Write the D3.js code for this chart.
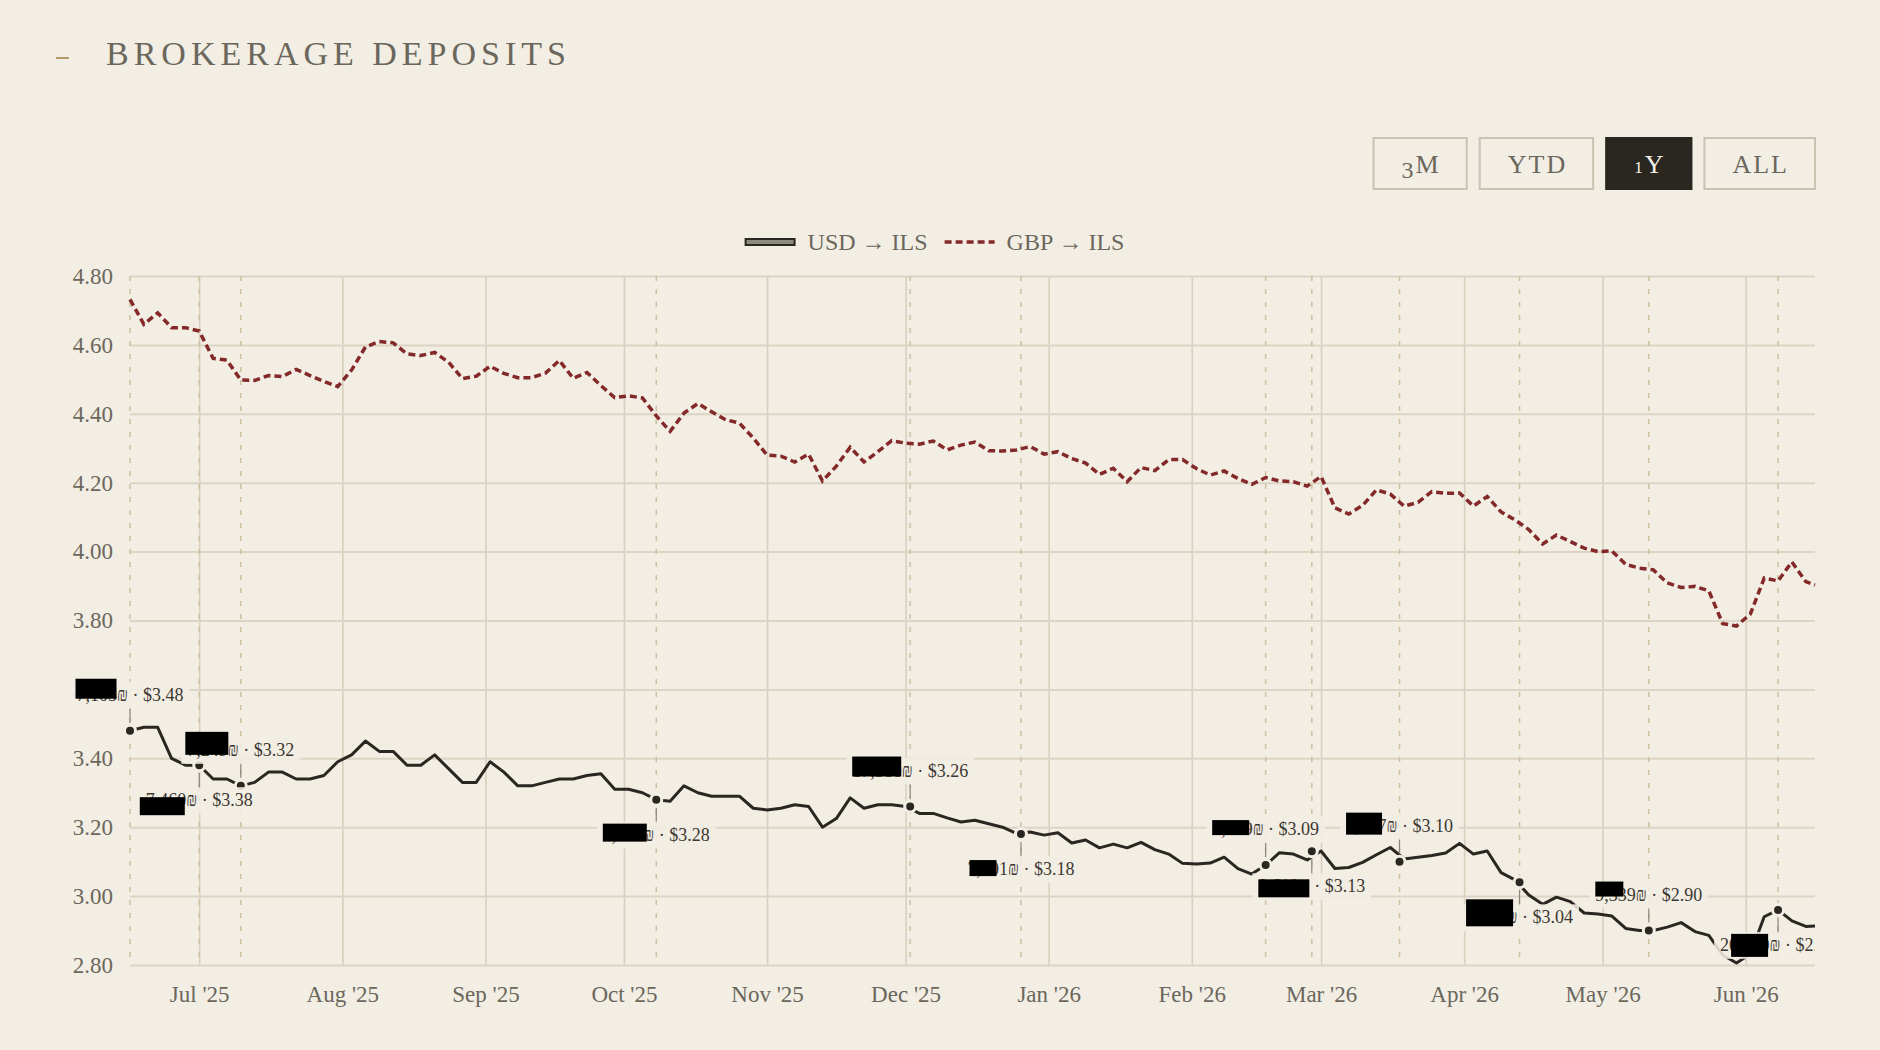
<!DOCTYPE html>
<meta charset="utf-8">
<script src="https://d3js.org/d3.v7.min.js"></script>
<style>
body { margin: 0; background: #f2eee4; }
svg { display: block; font-family: "Liberation Serif", "DejaVu Serif", serif; }
.axis path { display: none; }
.y.axis line { stroke: #dcd4c4; stroke-width: 2px; }
.x.axis line { stroke: #d8cfbe; stroke-width: 1.6px; }
.axis text { fill: #6b675c; font-size: 23px; }
.guide { stroke: #cdbf9f; stroke-width: 1.5px; stroke-dasharray: 5 8; }
.usd { fill: none; stroke: #2a2622; stroke-width: 3px; stroke-linejoin: round; }
.gbp { fill: none; stroke: #83292a; stroke-width: 3.5px; stroke-dasharray: 7 4; }
.dot { fill: #2a2622; stroke: #f2eee4; stroke-width: 3px; }
.leader { stroke: #8a8478; stroke-width: 1.2px; }
.note text { fill: #3b3731; font-size: 18px; }
.note .bg { fill: #f2eee4; opacity: 0.88; }
.legend text { fill: #6b675c; font-size: 24px; }
.btn rect { fill: none; stroke: #cac2b2; stroke-width: 2px; }
.btn text { fill: #6b675c; font-size: 26px; letter-spacing: 2px; }
.btn.on rect { fill: #2a2620; stroke: #2a2620; }
.btn.on text { fill: #f2eee4; }
</style>
<body></body>
<script>

// sample dates every 3 days across the 1Y window
var startDate = new Date(2025, 5, 16);
var endDate = new Date(2026, 5, 16);
var dates = d3.timeDay.range(startDate, endDate, 3).concat([endDate]);

// USD -> ILS
var usd = [3.48, 3.49, 3.49, 3.40, 3.38, 3.38, 3.34, 3.34, 3.32, 3.33,
  3.36, 3.36, 3.34, 3.34, 3.35, 3.39, 3.41, 3.45, 3.42, 3.42,
  3.38, 3.38, 3.41, 3.37, 3.33, 3.33, 3.39, 3.36, 3.32, 3.32,
  3.33, 3.34, 3.34, 3.35, 3.355, 3.31, 3.31, 3.30, 3.28, 3.275,
  3.32, 3.30, 3.29, 3.29, 3.29, 3.255, 3.25, 3.255, 3.265, 3.26,
  3.20, 3.225, 3.285, 3.255, 3.265, 3.265, 3.26, 3.24, 3.24, 3.227,
  3.215, 3.22, 3.21, 3.20, 3.182, 3.186, 3.177, 3.184, 3.154, 3.163,
  3.14, 3.151, 3.14, 3.156, 3.135, 3.122, 3.095, 3.093, 3.096, 3.113,
  3.08, 3.064, 3.09, 3.126, 3.122, 3.105, 3.131, 3.08, 3.083, 3.098,
  3.12, 3.141, 3.108, 3.113, 3.118, 3.125, 3.153, 3.122, 3.131, 3.068,
  3.047, 3.003, 2.976, 2.997, 2.984, 2.951, 2.948, 2.942, 2.906, 2.90,
  2.90, 2.91, 2.923, 2.897, 2.886, 2.829, 2.806, 2.832, 2.94, 2.96,
  2.928, 2.912, 2.913];

// GBP -> ILS
var gbp = [4.732, 4.66, 4.693, 4.65, 4.65, 4.64, 4.561, 4.556, 4.498, 4.497,
  4.511, 4.508, 4.529, 4.511, 4.494, 4.479, 4.527, 4.594, 4.61, 4.606,
  4.574, 4.569, 4.578, 4.55, 4.502, 4.509, 4.538, 4.517, 4.505, 4.505,
  4.518, 4.555, 4.503, 4.52, 4.482, 4.447, 4.452, 4.446, 4.394, 4.349,
  4.402, 4.43, 4.406, 4.383, 4.373, 4.33, 4.28, 4.277, 4.26, 4.283,
  4.205, 4.248, 4.303, 4.26, 4.29, 4.322, 4.315, 4.312, 4.321, 4.295,
  4.309, 4.318, 4.293, 4.292, 4.295, 4.305, 4.283, 4.29, 4.27, 4.257,
  4.224, 4.242, 4.203, 4.244, 4.235, 4.267, 4.267, 4.241, 4.222, 4.234,
  4.212, 4.195, 4.215, 4.205, 4.203, 4.19, 4.218, 4.127, 4.109, 4.134,
  4.179, 4.167, 4.132, 4.143, 4.174, 4.169, 4.17, 4.132, 4.16, 4.115,
  4.092, 4.064, 4.022, 4.048, 4.029, 4.01, 4.00, 4.002, 3.963, 3.952,
  3.947, 3.909, 3.896, 3.899, 3.886, 3.791, 3.784, 3.819, 3.923, 3.915,
  3.97, 3.913, 3.903];

var yTicks = [2.8, 3.0, 3.2, 3.4, 3.6, 3.8, 4.0, 4.2, 4.4, 4.6, 4.8];

// deposits
var noteDates = ["2025-06-16", "2025-07-01", "2025-07-10", "2025-10-08", "2025-12-02", "2025-12-26",
  "2026-02-17", "2026-02-27", "2026-03-18", "2026-04-13", "2026-05-11", "2026-06-08"];
var noteRates = [3.48, 3.38, 3.32, 3.28, 3.26, 3.18, 3.09, 3.13, 3.10, 3.04, 2.90, 2.96];
var noteAmounts = ["7,103", "7,460", "7,249", "7,319", "17,380", "7,501",
  "8,249", "8,610", "8,627", "9,884", "9,339", "20,550"];
// redaction boxes over the amounts: [dx from text start, width, top from baseline, height]
var redactions = [[-1, 41, -22, 20], [-6, 45, -9, 18], [-2, 43, -24, 23], [0, 44, -17, 18],
  [0, 49, -20, 20], [2, 27, -15, 16], [0, 37, -15, 15], [0, 51, -13, 18],
  [0, 36, -19, 22], [0, 47, -24, 27], [0, 28, -19, 15], [11, 37, -17, 23]];

var ranges = ["3M", "YTD", "1Y", "ALL"];
var activeRange = "1Y";

var parseDay = d3.timeParse("%Y-%m-%d");
var data = dates.map(function(d, i) { return {date: d, usd: usd[i], gbp: gbp[i]}; });
var notes = noteDates.map(function(d, i) {
  return {date: parseDay(d), rate: noteRates[i], amount: noteAmounts[i], red: redactions[i], above: i % 2 === 0};
});

var W = 1880, H = 1050;
var margin = {top: 276, right: 65, bottom: 85, left: 130};
var width = W - margin.left - margin.right,
    height = H - margin.top - margin.bottom;

var root = d3.select("body").append("svg")
    .attr("width", W)
    .attr("height", H);

root.append("defs").append("clipPath")
    .attr("id", "plotclip")
  .append("rect")
    .attr("x", -margin.left).attr("y", -margin.top)
    .attr("width", width + margin.left).attr("height", H);

// title
root.append("line")
    .attr("x1", 56).attr("x2", 69).attr("y1", 58).attr("y2", 58)
    .style("stroke", "#b39b6b").style("stroke-width", 2);
root.append("text")
    .attr("x", 106).attr("y", 65)
    .style("font-size", "34px")
    .style("letter-spacing", "5px")
    .style("fill", "#6b675c")
    .text("BROKERAGE DEPOSITS");

// range buttons, right aligned to the plot (old-style figures faked with tspans)
var btnRight = margin.left + width, btnGap = 13, btnPad = 27;
var btns = root.append("g").selectAll(".btn").data(ranges).enter().append("g")
    .attr("class", function(d) { return d === activeRange ? "btn on" : "btn"; });
btns.append("rect");
btns.append("text")
    .attr("text-anchor", "middle")
    .each(function(d) {
      var t = d3.select(this), shift = 0;
      d.split("").forEach(function(c) {
        var s = t.append("tspan").text(c);
        if (c === "3") { s.style("font-size", "24px").attr("dy", 5); shift = 5; }
        else if (c === "1") { s.style("font-size", "17px"); }
        else if (shift) { s.attr("dy", -shift); shift = 0; }
      });
    });
var widths = [];
btns.each(function() { widths.push(this.querySelector("text").getComputedTextLength() + 2 * btnPad); });
var xs = [], bx = btnRight;
for (var i = ranges.length - 1; i >= 0; i--) { bx -= widths[i]; xs[i] = bx; bx -= btnGap; }
btns.attr("transform", function(d, i) { return "translate(" + xs[i] + ",138)"; });
btns.select("rect")
    .attr("width", function(d, i) { return widths[i]; })
    .attr("height", 51);
btns.select("text")
    .attr("x", function(d, i) { return widths[i] / 2 + 1; })
    .attr("y", 35);

// legend
var legend = root.append("g").attr("class", "legend");
var li1 = legend.append("g");
li1.append("rect").attr("x", 1).attr("y", -11).attr("width", 49).attr("height", 6)
    .style("fill", "#8f8a80").style("stroke", "#2a2622").style("stroke-width", 2);
li1.append("text").attr("x", 63).attr("y", 0).text("USD \u2192 ILS");
var li2 = legend.append("g");
li2.append("line").attr("x1", 0).attr("x2", 50).attr("y1", -8).attr("y2", -8)
    .attr("class", "gbp");
li2.append("text").attr("x", 62).attr("y", 0).text("GBP \u2192 ILS");
var w1 = li1.node().getBBox().width;
li2.attr("transform", "translate(" + (w1 + 18) + ",0)");
var lw = legend.node().getBBox().width;
legend.attr("transform", "translate(" + (934 - lw / 2) + ",250)");

var svg = root.append("g")
    .attr("transform", "translate(" + margin.left + "," + margin.top + ")");

var x = d3.scaleTime()
    .domain([startDate, endDate])
    .range([0, width]);

var y = d3.scaleLinear()
    .domain([2.8, 4.8])
    .range([height, 0]);

var xAxis = d3.axisBottom(x)
    .ticks(d3.timeMonth.every(1))
    .tickFormat(d3.timeFormat("%b '%y"))
    .tickSize(-height)
    .tickPadding(21);

var yAxis = d3.axisLeft(y)
    .tickValues(yTicks)
    .tickFormat(d3.format(".2f"))
    .tickSize(-width)
    .tickPadding(17);

svg.append("g")
    .attr("class", "x axis")
    .attr("transform", "translate(0," + height + ")")
    .call(xAxis);

svg.append("g")
    .attr("class", "y axis")
    .call(yAxis);

svg.selectAll(".axis .tick text").style("font-family", "Liberation Serif");

// dashed guides at every deposit
svg.selectAll(".guide").data(notes).enter().append("line")
    .attr("class", "guide")
    .attr("x1", function(d) { return x(d.date); })
    .attr("x2", function(d) { return x(d.date); })
    .attr("y1", 0).attr("y2", height);

var gbpLine = d3.line()
    .x(function(d) { return x(d.date); })
    .y(function(d) { return y(d.gbp); });
var usdLine = d3.line()
    .x(function(d) { return x(d.date); })
    .y(function(d) { return y(d.usd); });

svg.append("path").datum(data).attr("class", "gbp").attr("d", gbpLine);
svg.append("path").datum(data).attr("class", "usd").attr("d", usdLine);

svg.selectAll(".dot").data(notes).enter().append("circle")
    .attr("class", "dot")
    .attr("cx", function(d) { return x(d.date); })
    .attr("cy", function(d) { return y(d.rate); })
    .attr("r", 5.5);

var noteG = svg.append("g").attr("clip-path", "url(#plotclip)");

var note = noteG.selectAll(".note").data(notes).enter().append("g")
    .attr("class", "note")
    .attr("transform", function(d) {
      var base = y(d.rate) + (d.above ? -30 : 41);
      return "translate(" + x(d.date) + "," + base + ")";
    });

note.append("line")
    .attr("class", "leader")
    .attr("y1", function(d) { return d.above ? 7 : -17; })
    .attr("y2", function(d) { return d.above ? 22 : -33; });

note.append("rect").attr("class", "bg");

note.append("text")
    .attr("class", "lbl")
    .attr("text-anchor", "middle")
    .text(function(d) { return d.amount + "\u20aa \u00b7 $" + d.rate.toFixed(2); });

note.each(function(d) {
  var g = d3.select(this);
  var bb = g.select("text").node().getBBox();
  g.select(".bg")
    .attr("x", bb.x - 6).attr("y", -19)
    .attr("width", bb.width + 12).attr("height", 27);
  g.append("rect")
    .attr("x", bb.x + d.red[0]).attr("y", d.red[2])
    .attr("width", d.red[1]).attr("height", d.red[3])
    .style("fill", "#000");
});

</script>
